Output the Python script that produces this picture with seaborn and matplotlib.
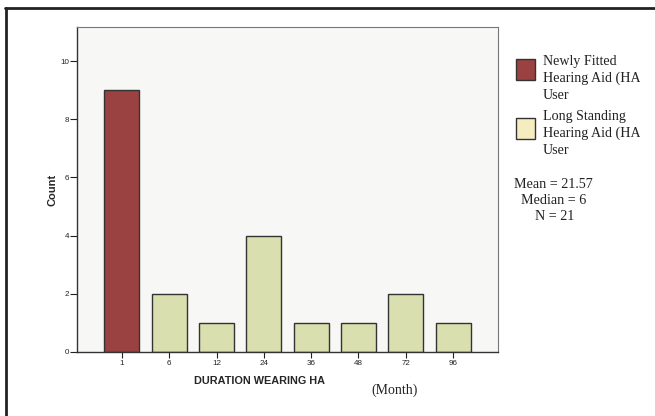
import matplotlib
matplotlib.use("Agg")
import matplotlib.pyplot as plt
from matplotlib.patches import Rectangle
from matplotlib.lines import Line2D
from matplotlib.transforms import Bbox, TransformedBbox
import seaborn as sns
import pandas as pd

# ---- data ----
durations = ["1", "6", "12", "24", "36", "48", "72", "96"]
counts = [9, 2, 1, 4, 1, 1, 2, 1]
groups = ["Newly Fitted", "Long Standing", "Long Standing", "Long Standing",
          "Long Standing", "Long Standing", "Long Standing", "Long Standing"]
legend_labels = ["Newly Fitted\nHearing Aid (HA)\nUser",
                 "Long Standing\nHearing Aid (HA)\nUser"]
stats_lines = ["Mean = 21.57", "Median = 6", "N = 21"]
y_ticks = [0, 2, 4, 6, 8, 10]

df = pd.DataFrame({"duration": durations, "count": counts, "group": groups})

sns.set_style("white")

W, H = 655, 416
fig = plt.figure(figsize=(W / 100, H / 100), dpi=100)
fig.patch.set_facecolor("white")

def fx(px):
    return px / W

def fy(py):
    return 1 - py / H

ax_l, ax_r, ax_t, ax_b = 77, 498, 27, 352
ax = fig.add_axes([fx(ax_l), fy(ax_b), fx(ax_r - ax_l), (ax_b - ax_t) / H])
ax.set_facecolor("#F7F7F5")

palette = {"Newly Fitted": "#9A4141", "Long Standing": "#D9DFAE"}
sns.barplot(data=df, x="duration", y="count", hue="group", order=durations,
            palette=palette, dodge=False, width=0.74, edgecolor="#333333",
            linewidth=1.0, legend=False, saturation=1, ax=ax)

ax.set_xlim(-0.95, 7.95)
ax.set_ylim(0, 11.17)
ax.set_yticks(y_ticks)
ax.set_yticklabels([str(t) for t in y_ticks])
ax.tick_params(axis="y", direction="out", length=5, width=0.8, pad=0.5,
               labelsize=5.8, colors="#222222", left=True)
ax.tick_params(axis="x", direction="out", length=4, width=0.8, pad=2,
               labelsize=5.8, colors="#222222", bottom=True)
for lab in ax.get_xticklabels() + ax.get_yticklabels():
    lab.set_fontfamily("Liberation Sans")

for side in ["left", "bottom"]:
    ax.spines[side].set_color("#333333")
    ax.spines[side].set_linewidth(1.0)
for side in ["top", "right"]:
    ax.spines[side].set_color("#777777")
    ax.spines[side].set_linewidth(0.8)

ax.set_xlabel("")
ax.set_ylabel("")

# axis titles
fig.text(fx(52), fy(190), "Count", rotation=90, ha="center", va="center",
         fontsize=8, fontweight="bold", family="Liberation Sans")
fig.text(fx(260), fy(381), "DURATION WEARING HA", ha="center", va="center",
         fontsize=7.8, fontweight="bold", family="Liberation Sans")
fig.text(fx(395), fy(390), "(Month)", ha="center", va="center",
         fontsize=10, family="Liberation Serif", color="#222222")

# legend (text clipped at the legend box edge, as in the original)
clip = TransformedBbox(Bbox.from_extents(0, 0, fx(640), 1), fig.transFigure)
leg_colors = ["#9A4141", "#F5ECC0"]
patch_tops = [59, 118]
text_tops = [55, 110]
for lab, col, top, ttop in zip(legend_labels, leg_colors, patch_tops, text_tops):
    fig.patches.append(Rectangle((fx(516), fy(top + 21)), fx(19), 21 / H,
                                 transform=fig.transFigure, facecolor=col,
                                 edgecolor="#333333", linewidth=1.0))
    t = fig.text(fx(543), fy(ttop), lab, ha="left", va="top", fontsize=10.1,
                 family="Liberation Serif", color="#222222", linespacing=1.36)
    t.set_clip_box(clip)
    t.set_clip_on(True)

stats_x = [514, 521, 535]
stats_y = [184, 200, 216]
for s, x, y in zip(stats_lines, stats_x, stats_y):
    fig.text(fx(x), fy(y), s, ha="left", va="center", fontsize=10.2,
             family="Liberation Serif", color="#222222")

# outer frame (left and top)
fig.add_artist(Line2D([fx(6), fx(6)], [fy(8), fy(420)], transform=fig.transFigure,
                      color="#222222", linewidth=2.0))
fig.add_artist(Line2D([fx(5), fx(660)], [fy(8), fy(8)], transform=fig.transFigure,
                      color="#222222", linewidth=2.0))

fig.savefig("out.png", dpi=100)
